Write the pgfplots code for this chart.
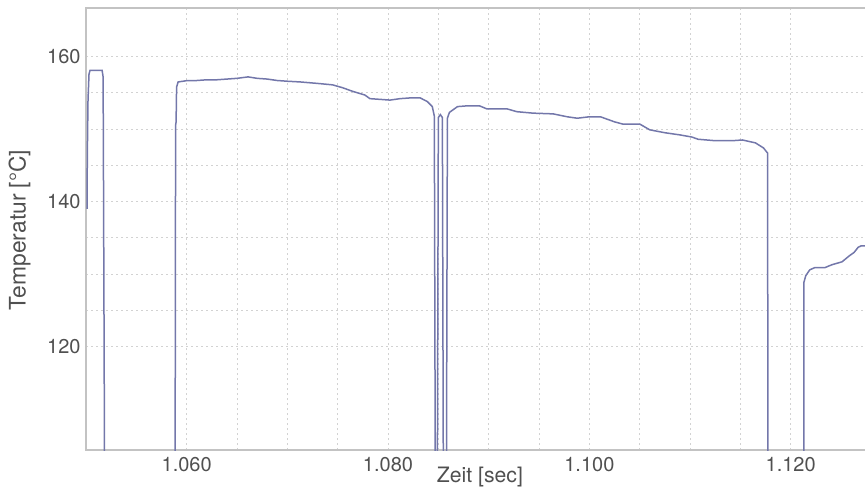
\documentclass[border=0pt]{standalone}
\usepackage{pgfplots}
\pgfplotsset{compat=1.18}
\usepackage{fontspec}
\setmainfont{TeX Gyre Heros}

\definecolor{trace}{RGB}{115,119,170}
\definecolor{txt}{RGB}{80,80,80}
\definecolor{frame}{RGB}{195,195,195}
\definecolor{gridc}{RGB}{210,210,210}

\begin{document}
\begin{tikzpicture}
\begin{axis}[
    at={(0,0)}, anchor=south west,
    scale only axis,
    width=391.6pt, height=221pt,
    xmin=1.050, xmax=1.1278,
    ymin=105.75, ymax=166.7,
    xtick={1.06,1.08,1.10,1.12},
    xticklabels={1.060,1.080,1.100,1.120},
    ytick={120,140,160},
    yticklabels={120,140,160},
    minor x tick num=3,
    minor y tick num=3,
    grid=both,
    major grid style={gridc, line width=0.5pt, dash pattern=on 1pt off 1.5pt},
    minor grid style={gridc, line width=0.5pt, dash pattern=on 1pt off 1.5pt},
    tick style={draw=none},
    axis line style={frame, line width=0.6pt},
    ticklabel style={font=\fontsize{10}{12}\selectfont, text=txt},
    xticklabel style={inner sep=0pt, yshift=-3.5pt},
    yticklabel style={inner sep=0pt, xshift=-2.5pt},
    xlabel={Zeit [sec]},
    ylabel={Temperatur [°C]},
    xlabel style={at={(axis description cs:0.503,0)}, anchor=north, inner sep=0pt, yshift=-8.5pt,
        font=\fontsize{10.6}{12}\selectfont, text=txt},
    ylabel style={at={(axis description cs:-0.0849,0.498)}, anchor=center, inner sep=0pt,
        font=\fontsize{11.4}{13}\selectfont, text=txt},
]
\addplot[trace, line width=0.75pt, mark=none] coordinates {
(1.05010,139.0) (1.05012,144.0) (1.05015,148.5) (1.05020,154.0) (1.05030,157.6) (1.05040,158.1)
(1.05100,158.1) (1.05160,158.1) (1.05170,157.2) (1.05180,120.0) (1.05185,100.0)
(1.05885,100.0) (1.05890,150.5) (1.05895,151.0) (1.05900,155.8) (1.05915,156.5)
(1.06010,156.7) (1.06100,156.7) (1.06200,156.8) (1.06300,156.8) (1.06400,156.9)
(1.06500,157.0) (1.06610,157.2) (1.06700,157.0) (1.06800,156.9) (1.06900,156.7)
(1.07000,156.6) (1.07130,156.5) (1.07300,156.3) (1.07450,156.1) (1.07550,155.7)
(1.07650,155.2) (1.07770,154.7) (1.07820,154.2) (1.07920,154.1) (1.08020,154.0)
(1.08120,154.2) (1.08220,154.3) (1.08320,154.3) (1.08390,153.8) (1.08440,153.1)
(1.08460,151.8) (1.08470,100.0) (1.08490,100.0) (1.08500,151.6) (1.08520,152.0)
(1.08540,151.6) (1.08550,100.0) (1.08580,100.0) (1.08590,151.5) (1.08610,152.3)
(1.08640,152.6) (1.08690,153.1) (1.08780,153.2) (1.08910,153.2) (1.08980,152.8)
(1.09180,152.8) (1.09280,152.4) (1.09440,152.2) (1.09640,152.1) (1.09780,151.7)
(1.09880,151.5) (1.10000,151.7) (1.10110,151.7) (1.10250,151.0) (1.10330,150.7)
(1.10500,150.7) (1.10600,149.9) (1.10750,149.5) (1.10900,149.2) (1.11020,148.9)
(1.11080,148.6) (1.11250,148.4) (1.11420,148.4) (1.11520,148.5) (1.11650,148.1)
(1.11730,147.4) (1.11770,146.7) (1.11775,100.0)
(1.12130,100.0) (1.12130,128.8) (1.12150,129.8) (1.12190,130.6) (1.12240,130.9)
(1.12340,130.9) (1.12410,131.3) (1.12510,131.7) (1.12580,132.5) (1.12630,133.0)
(1.12670,133.7) (1.12700,133.9) (1.12780,133.9)
};
\end{axis}
\pgfresetboundingbox
\path (-43pt,-18.5pt) rectangle (389.5pt,225pt);
\end{tikzpicture}
\end{document}
